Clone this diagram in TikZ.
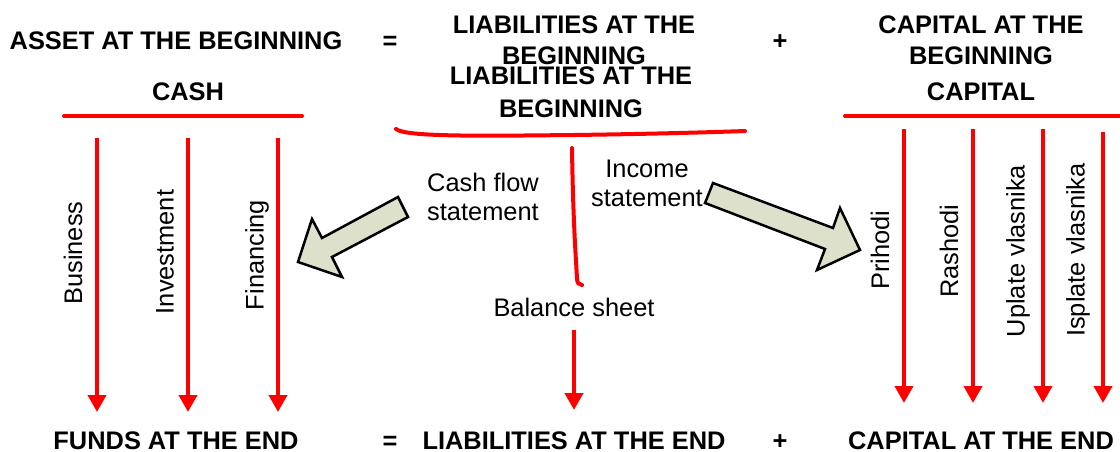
\documentclass[tikz,border=0pt]{standalone}
\usepackage{fontspec}
\setmainfont{Liberation Sans}
\usetikzlibrary{arrows.meta}
\definecolor{flowred}{HTML}{FF0000}
\definecolor{blockfill}{HTML}{DDE1CB}
\begin{document}
\begin{tikzpicture}[x=1pt,y=-1pt,
  head/.style={font=\fontsize{25.4}{31}\selectfont\bfseries, inner sep=0pt, align=center},
  lbl/.style={font=\fontsize{25.4}{29}\selectfont, inner sep=0pt, align=center},
  vlbl/.style={font=\fontsize{25.4}{29}\selectfont, inner sep=0pt, rotate=90},
  bar/.style={draw=flowred, line width=4pt, line cap=round},
  flow/.style={draw=flowred, line width=4pt, -{Triangle[width=18pt,length=17pt]}},
  block/.style={draw=black, line width=2.5pt, fill=blockfill, line join=miter}]
\useasboundingbox (0,0) rectangle (1120,452);

% opening balance equation
\node[head, anchor=base] (assetB) at (176,50) {ASSET AT THE BEGINNING};
\node[head, anchor=base] (eqTop) at (390,50) {=};
\node[head, anchor=north] (liabB) at (574,16) {LIABILITIES AT THE\\BEGINNING};
\node[head, anchor=base] (plusTop) at (780,50) {+};
\node[head, anchor=north] (capB) at (981,16) {CAPITAL AT THE\\BEGINNING};

% account headings
\node[head, anchor=base] (cash) at (188,101) {CASH};
\node[head, anchor=north] (liabB2) at (571,67) {LIABILITIES AT THE\\[2pt]BEGINNING};
\node[head, anchor=base] (capital) at (981,101) {CAPITAL};

% closing balance equation
\node[head, anchor=base] (funds) at (176,449) {FUNDS AT THE END};
\node[head, anchor=base] (eqBot) at (390,449) {=};
\node[head, anchor=base] (liabE) at (574,449) {LIABILITIES AT THE END};
\node[head, anchor=base] (plusBot) at (780,449) {+};
\node[head, anchor=base] (capE) at (981,449) {CAPITAL AT THE END};

% account bars
\coordinate (cashL) at (64,116);
\coordinate (cashR) at (302,116);
\coordinate (capL) at (845,116);
\coordinate (capR) at (1124,116);
\draw[bar] (cashL) -- (cashR);
\draw[bar] (capL) -- (capR);
\coordinate (liabL) at (396,129);
\coordinate (liabM) at (574,135);
\coordinate (liabR) at (745,131);
\draw[bar] (liabL) .. controls (405,137) and (480,136) .. (liabM)
  .. controls (650,134) and (720,132) .. (liabR);

% balance sheet stem
\coordinate (stemTop) at (572,148);
\coordinate (stemBend) at (577,278);
\coordinate (stemEnd) at (582,285);
\draw[bar] (stemTop) .. controls (573,220) and (576,260) .. (stemBend)
  .. controls (577,283) and (579,285) .. (stemEnd);
\node[lbl, anchor=base] (bs) at (574,316) {Balance sheet};
\coordinate (bsArrowTop) at (574,330);
\coordinate (bsArrowTip) at (574,410);
\draw[flow] (bsArrowTop) -- (bsArrowTip);

% cash flows
\foreach \x/\n in {97/bus, 188/inv, 278/fin} {
  \coordinate (\n Top) at (\x,138);
  \coordinate (\n Tip) at (\x,412);
  \draw[flow] (\n Top) -- (\n Tip);
}
\node[vlbl] (busL) at (73,253) {Business};
\node[vlbl] (invL) at (165,252) {Investment};
\node[vlbl] (finL) at (257,255) {Financing};

% capital flows
\foreach \x/\y/\n in {904/129/pri, 973/129/ras, 1043/129/upl, 1103/132/isp} {
  \coordinate (\n Top) at (\x,\y);
  \coordinate (\n Tip) at (\x,403);
  \draw[flow] (\n Top) -- (\n Tip);
}
\node[vlbl] (priL) at (880,250) {Prihodi};
\node[vlbl] (rasL) at (949,251) {Rashodi};
\node[vlbl] (uplL) at (1018,251) {Uplate vlasnika};
\node[vlbl] (ispL) at (1078,250) {Isplate vlasnika};

% statement labels and block arrows
\node[lbl, anchor=north] (cfs) at (483,173) {Cash flow\\statement};
\node[lbl, anchor=north] (inc) at (647,160) {Income\\statement};
\draw[block] (398,197) -- (408,217) -- (332,257) -- (342,277) -- (298,262)
  -- (312,219) -- (322,238) -- cycle;
\draw[block] (713,183) -- (833,228) -- (840,208) -- (860,250) -- (817,270)
  -- (825,249) -- (705,203) -- cycle;
\end{tikzpicture}
\end{document}
